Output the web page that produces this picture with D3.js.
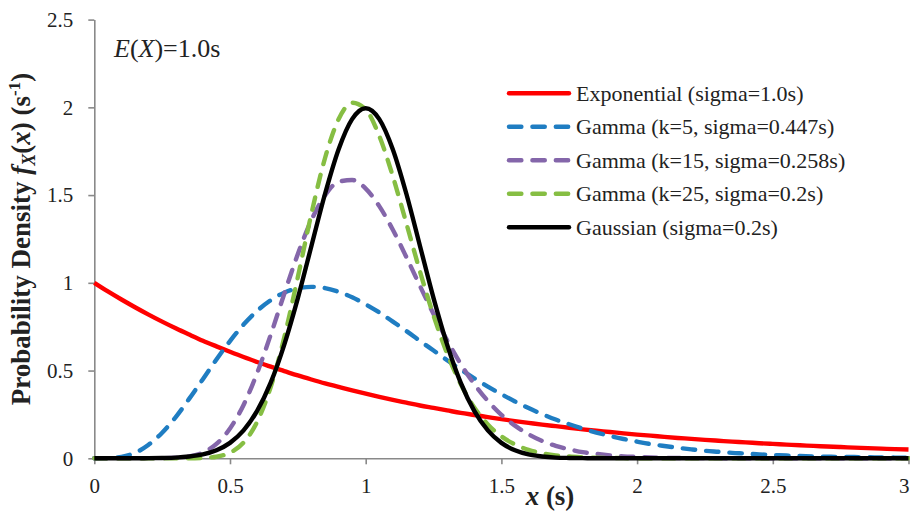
<!DOCTYPE html>
<html>
<head>
<meta charset="utf-8">
<script src="https://cdn.jsdelivr.net/npm/d3@7"></script>
<style>
  html, body { margin: 0; padding: 0; background: #fff; }
  svg { display: block; font-family: "Liberation Serif", "Times New Roman", serif; }
</style>
</head>
<body>
<svg id="chart" width="910" height="517"></svg>
<script>
// Sample positions (s) shared by every curve
const xs = [0,0.05,0.1,0.15,0.2,0.25,0.3,0.35,0.4,0.45,0.5,0.55,0.6,0.65,0.7,0.75,0.8,0.85,0.9,0.95,
  1,1.05,1.1,1.15,1.2,1.25,1.3,1.35,1.4,1.45,1.5,1.55,1.6,1.65,1.7,1.75,1.8,1.85,1.9,1.95,
  2,2.05,2.1,2.15,2.2,2.25,2.3,2.35,2.4,2.45,2.5,2.55,2.6,2.65,2.7,2.75,2.8,2.85,2.9,2.95,3];

const exponential = [1.000,0.951,0.905,0.861,0.819,0.779,0.741,0.705,0.670,0.638,0.607,0.577,0.549,0.522,0.497,0.472,0.449,0.427,0.407,0.387,
  0.368,0.350,0.333,0.317,0.301,0.287,0.273,0.259,0.247,0.235,0.223,0.212,0.202,0.192,0.183,0.174,0.165,0.157,0.150,0.142,
  0.135,0.129,0.122,0.116,0.111,0.105,0.100,0.095,0.091,0.086,0.082,0.078,0.074,0.071,0.067,0.064,0.061,0.058,0.055,0.052,0.050];

const gammaK5 = [0,0.001,0.008,0.031,0.077,0.146,0.235,0.340,0.451,0.563,0.668,0.762,0.840,0.901,0.944,0.969,0.977,0.970,0.949,0.918,
  0.877,0.831,0.779,0.725,0.669,0.614,0.559,0.506,0.456,0.409,0.365,0.324,0.286,0.252,0.221,0.194,0.169,0.147,0.127,0.110,
  0.095,0.081,0.070,0.060,0.051,0.043,0.037,0.031,0.027,0.022,0.019,0.016,0.013,0.011,0.009,0.008,0.007,0.006,0.005,0.004,0.003];

const gammaK15 = [0,0,0,0,0,0,0.003,0.011,0.033,0.082,0.170,0.304,0.486,0.704,0.938,1.164,1.357,1.498,1.576,1.586,
  1.537,1.437,1.302,1.146,0.982,0.822,0.672,0.538,0.423,0.327,0.248,0.186,0.137,0.099,0.071,0.051,0.035,0.025,0.017,0.011,
  0.008,0.005,0.003,0.002,0.001,0.001,0.001,0,0,0,0,0,0,0,0,0,0,0,0,0,0];

const gammaK25 = [0,0,0,0,0,0,0,0,0.002,0.009,0.032,0.090,0.208,0.406,0.689,1.033,1.394,1.710,1.932,2.026,
  1.988,1.837,1.607,1.338,1.065,0.813,0.597,0.423,0.290,0.193,0.125,0.079,0.048,0.029,0.017,0.010,0.006,0.003,0.002,0.001,
  0,0,0,0,0,0,0,0,0,0,0,0,0,0,0,0,0,0,0,0,0];

const gaussian = [0,0,0,0,0.001,0.002,0.004,0.010,0.022,0.046,0.088,0.159,0.270,0.431,0.648,0.913,1.210,1.506,1.760,1.933,
  1.995,1.933,1.760,1.506,1.210,0.913,0.648,0.431,0.270,0.159,0.088,0.046,0.022,0.010,0.004,0.002,0.001,0,0,0,
  0,0,0,0,0,0,0,0,0,0,0,0,0,0,0,0,0,0,0,0,0];

const seriesNames = ["Exponential (sigma=1.0s)", "Gamma (k=5, sigma=0.447s)", "Gamma (k=15, sigma=0.258s)",
  "Gamma (k=25, sigma=0.2s)", "Gaussian (sigma=0.2s)"];
const seriesValues = [exponential, gammaK5, gammaK15, gammaK25, gaussian];
const seriesColors = ["#FF0000", "#1F7DC2", "#8466AA", "#86BE43", "#000000"];
const seriesDashed = [false, true, true, true, false];

const xTicks = [0, 0.5, 1, 1.5, 2, 2.5, 3];
const xTickLabels = ["0", "0.5", "1", "1.5", "2", "2.5", "3"];
const yTicks = [0, 0.5, 1, 1.5, 2, 2.5];
const yTickLabels = ["0", "0.5", "1", "1.5", "2", "2.5"];

// Layout
const svg = d3.select("#chart");
const plot = { left: 94.3, right: 908.5, top: 19.6, bottom: 458.3 };
const axisColor = "#898989";

const x = d3.scaleLinear().domain([0, 3]).range([plot.left, plot.right]);
const y = d3.scaleLinear().domain([0, 2.5]).range([plot.bottom, plot.top]);

// Y axis
const yAxis = svg.append("g")
  .attr("transform", `translate(${plot.left},0)`)
  .call(d3.axisLeft(y).tickValues(yTicks).tickSize(6).tickSizeOuter(0).tickPadding(15)
    .tickFormat((d, i) => yTickLabels[i]));

// X axis
const xAxis = svg.append("g")
  .attr("transform", `translate(0,${plot.bottom})`)
  .call(d3.axisBottom(x).tickValues(xTicks).tickSize(6).tickSizeOuter(0).tickPadding(14)
    .tickFormat((d, i) => xTickLabels[i]));

[xAxis, yAxis].forEach(g => {
  g.select(".domain").attr("stroke", axisColor).attr("stroke-width", 1.6);
  g.selectAll(".tick line").attr("stroke", axisColor).attr("stroke-width", 1.6);
  g.selectAll(".tick text")
    .attr("fill", "#222")
    .style("font-family", '"Liberation Serif", "Times New Roman", serif')
    .style("font-size", "21px");
});

// Keep the last x label inside the right edge of the page
xAxis.selectAll(".tick text")
  .filter((d, i) => i === xTicks.length - 1)
  .attr("text-anchor", "end")
  .attr("x", 909 - plot.right);

// Curves
const line = d3.line()
  .x((d, i) => x(xs[i]))
  .y(d => y(d))
  .curve(d3.curveMonotoneX);

seriesValues.forEach((vals, i) => {
  svg.append("path")
    .datum(vals)
    .attr("d", line)
    .attr("fill", "none")
    .attr("stroke", seriesColors[i])
    .attr("stroke-width", 4.4)
    .attr("stroke-linejoin", "round")
    .attr("stroke-linecap", seriesDashed[i] ? "round" : "butt")
    .attr("stroke-dasharray", seriesDashed[i] ? "12.4,11" : null);
});

// Legend
const legend = svg.append("g");
const legendRowY = d3.range(seriesNames.length).map(i => 93.3 + i * 33.5);
seriesNames.forEach((name, i) => {
  legend.append("line")
    .attr("x1", 509).attr("x2", 569)
    .attr("y1", legendRowY[i]).attr("y2", legendRowY[i])
    .attr("stroke", seriesColors[i])
    .attr("stroke-width", 4.4)
    .attr("stroke-linecap", "round")
    .attr("stroke-dasharray", seriesDashed[i] ? "12.4,11" : null);
  legend.append("text")
    .attr("x", 576).attr("y", legendRowY[i] + 7.4)
    .attr("fill", "#222")
    .style("font-size", "22px")
    .text(name);
});

// Mean annotation
const note = svg.append("text")
  .attr("x", 114).attr("y", 57)
  .attr("fill", "#222")
  .style("font-size", "26px");
note.append("tspan").style("font-style", "italic").text("E");
note.append("tspan").text("(");
note.append("tspan").style("font-style", "italic").text("X");
note.append("tspan").text(")=1.0s");

// X axis title
const xTitle = svg.append("text")
  .attr("x", 550).attr("y", 505)
  .attr("text-anchor", "middle")
  .attr("fill", "#222")
  .style("font-size", "27px")
  .style("font-weight", "bold");
xTitle.append("tspan").style("font-style", "italic").text("x");
xTitle.append("tspan").text(" (s)");

// Y axis title
const yTitle = svg.append("text")
  .attr("transform", `translate(30,${(plot.top + plot.bottom) / 2}) rotate(-90)`)
  .attr("text-anchor", "middle")
  .attr("fill", "#222")
  .style("font-size", "27px")
  .style("font-weight", "bold");
yTitle.append("tspan").text("Probability Density ");
yTitle.append("tspan").style("font-style", "italic").text("f");
yTitle.append("tspan").style("font-style", "italic").style("font-size", "18px").attr("dy", 5).text("X");
yTitle.append("tspan").attr("dy", -5).text("(");
yTitle.append("tspan").style("font-style", "italic").text("x");
yTitle.append("tspan").text(") (s");
yTitle.append("tspan").style("font-size", "17px").attr("dy", -10).text("-1");
yTitle.append("tspan").attr("dy", 10).text(")");
</script>
</body>
</html>
